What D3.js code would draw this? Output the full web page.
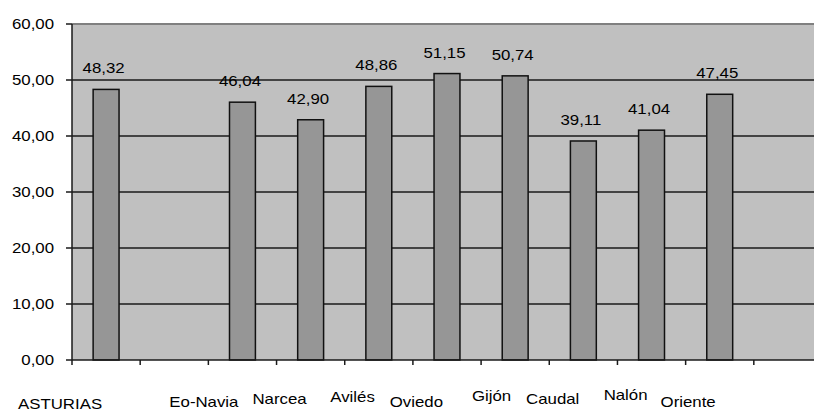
<!DOCTYPE html>
<html>
<head>
<meta charset="utf-8">
<script src="https://cdn.jsdelivr.net/npm/d3@7"></script>
<style>
  body { margin: 0; background: #fff; }
  svg text { font-family: "Liberation Sans", Arial, sans-serif; fill: #000; }
</style>
</head>
<body>
<svg width="814" height="413"></svg>
<script>
// one slot per category, two of them left empty as in the original sheet
const categories = ["ASTURIAS", "", "Eo-Navia", "Narcea", "Avilés", "Oviedo", "Gijón", "Caudal", "Nalón", "Oriente", ""];
const values = [48.32, null, 46.04, 42.90, 48.86, 51.15, 50.74, 39.11, 41.04, 47.45, null];
const valueLabels = ["48,32", "", "46,04", "42,90", "48,86", "51,15", "50,74", "39,11", "41,04", "47,45", ""];
const yTicks = [0, 10, 20, 30, 40, 50, 60];

// staggered baselines of the category labels (as they came out of the spreadsheet)
const labelBaseline = [409, 0, 407, 404, 402, 407, 401, 404, 400, 407, 0];

const svg = d3.select("svg");
const plotLeft = 72, plotRight = 822, plotTop = 24, plotBottom = 360;
const stretch = 1.16;

const x = d3.scaleBand()
    .domain(d3.range(categories.length))
    .range([plotLeft, plotRight])
    .paddingInner(0.62)
    .paddingOuter(0.31);

const y = d3.scaleLinear().domain([0, 60]).range([plotBottom, plotTop]);

// plot background
svg.append("rect")
    .attr("x", plotLeft).attr("y", plotTop)
    .attr("width", plotRight - plotLeft).attr("height", plotBottom - plotTop)
    .attr("fill", "#c0c0c0");

// gridlines + y ticks
svg.selectAll(".grid")
    .data(yTicks.filter(d => d > 0 && d < 60))
    .enter().append("line")
    .attr("x1", plotLeft - 6).attr("x2", plotRight)
    .attr("y1", d => y(d)).attr("y2", d => y(d))
    .attr("stroke", "#1a1a1a").attr("stroke-width", 1.5);

// top border
svg.append("line")
    .attr("x1", plotLeft).attr("x2", plotRight)
    .attr("y1", y(60)).attr("y2", y(60))
    .attr("stroke", "#808080").attr("stroke-width", 2);
svg.append("line")
    .attr("x1", plotLeft - 6).attr("x2", plotLeft)
    .attr("y1", y(60)).attr("y2", y(60))
    .attr("stroke", "#1a1a1a").attr("stroke-width", 1.5);

// bars
const bars = categories.map((c, i) => ({ i, v: values[i], label: valueLabels[i] })).filter(d => d.v != null);

svg.selectAll(".bar")
    .data(bars)
    .enter().append("rect")
    .attr("x", d => x(d.i))
    .attr("y", d => y(d.v))
    .attr("width", x.bandwidth())
    .attr("height", d => y(0) - y(d.v))
    .attr("fill", "#969696")
    .attr("stroke", "#111")
    .attr("stroke-width", 1.5);

// x axis line + ticks at slot boundaries
svg.append("line")
    .attr("x1", plotLeft - 6).attr("x2", plotRight)
    .attr("y1", y(0)).attr("y2", y(0))
    .attr("stroke", "#1a1a1a").attr("stroke-width", 1.5);
svg.selectAll(".xtick")
    .data(d3.range(1, categories.length))
    .enter().append("line")
    .attr("x1", i => x(i) - x.step() * x.paddingInner() / 2)
    .attr("x2", i => x(i) - x.step() * x.paddingInner() / 2)
    .attr("y1", y(0)).attr("y2", y(0) + 5)
    .attr("stroke", "#1a1a1a").attr("stroke-width", 1.5);

// y axis line
svg.append("line")
    .attr("x1", plotLeft).attr("x2", plotLeft)
    .attr("y1", plotTop).attr("y2", y(0) + 5)
    .attr("stroke", "#1a1a1a").attr("stroke-width", 1.5);

// y labels
svg.selectAll(".ylab")
    .data(yTicks)
    .enter().append("text")
    .attr("transform", d => `translate(54,${y(d) + 5}) scale(${stretch},1)`)
    .attr("text-anchor", "end")
    .style("font-size", "14.5px")
    .text(d => d3.format(".2f")(d).replace(".", ","));

// value labels
svg.selectAll(".vlab")
    .data(bars)
    .enter().append("text")
    .attr("transform", d => `translate(${x(d.i) + x.bandwidth() / 2 - 2.5},${y(d.v) - 16}) scale(${stretch},1)`)
    .attr("text-anchor", "middle")
    .style("font-size", "14.5px")
    .text(d => d.label);

// category labels
svg.selectAll(".xlab")
    .data(categories.map((c, i) => ({ c, i })).filter(d => d.c))
    .enter().append("text")
    .attr("transform", d => `translate(${x(d.i) + x.bandwidth() / 2 - 4},${labelBaseline[d.i]}) scale(${stretch},1)`)
    .attr("text-anchor", "end")
    .style("font-size", "14.5px")
    .text(d => d.c);
</script>
</body>
</html>
